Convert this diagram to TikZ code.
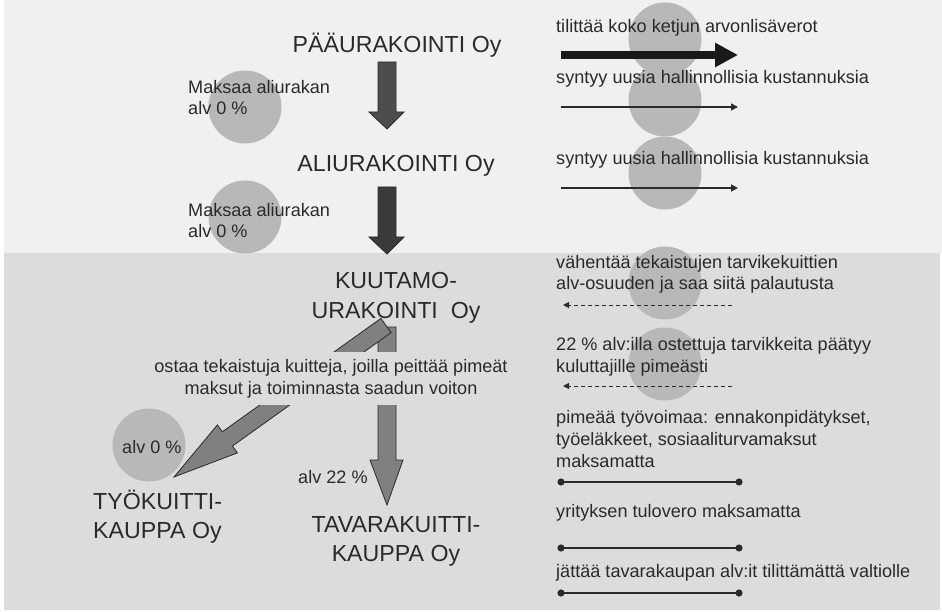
\documentclass[tikz,border=0pt]{standalone}
\usepackage{fontspec}
\setmainfont{Liberation Sans}
\usetikzlibrary{arrows.meta}
\definecolor{topbg}{HTML}{F0F0F0}
\definecolor{botbg}{HTML}{DCDCDC}
\definecolor{discgray}{HTML}{B8B8B8}
\definecolor{ink}{HTML}{2A2A2A}
\definecolor{arrA}{HTML}{4D4D4D}
\definecolor{arrB}{HTML}{3B3B3B}
\definecolor{arrC}{HTML}{808080}
\begin{document}
\begin{tikzpicture}[x=1pt,y=-1pt,
  big/.style={font=\fontsize{23.2}{29}\selectfont, text=ink, inner sep=0pt},
  small/.style={font=\fontsize{18.1}{21.7}\selectfont, text=ink, inner sep=0pt},
  disc/.style={circle, fill=discgray, minimum size=73pt, inner sep=0pt},
  block/.style={fill=#1, draw=ink, line width=0.8pt, line join=miter},
  thickarrow/.style={line width=8pt, draw=black!90, -{Triangle[length=23pt,width=23pt]}},
  thinarrow/.style={line width=1.4pt, draw=ink, -{Triangle[length=7pt,width=7pt]}},
  dasharrow/.style={line width=1pt, draw=ink, dash pattern=on 4pt off 3pt, -{Triangle[length=6pt,width=6pt]}},
  dotline/.style={line width=2pt, draw=ink, {Circle[length=7pt]}-{Circle[length=7pt]}}
]
\useasboundingbox (0,0) rectangle (942,612);
% backgrounds
\fill[topbg] (4,0) rectangle (942,253);
\fill[botbg] (4,253) rectangle (940,610);

% discs
\node[disc] (d1) at (245,107) {};
\node[disc] (d2) at (245,217) {};
\node[disc] (d3) at (149,445) {};
\node[disc] (r1) at (665,39) {};
\node[disc] (r2) at (665,100) {};
\node[disc] (r3) at (665,173) {};
\node[disc] (r4) at (665,283) {};
\node[disc] (r5) at (665,364) {};

% main company labels (base anchor = baseline of last line)
\node[big, anchor=base] (paa) at (397,53) {PÄÄURAKOINTI Oy};
\node[big, anchor=base] (ali) at (396,172) {ALIURAKOINTI Oy};
\node[big, anchor=base, align=center] (kuu) at (396,318) {KUUTAMO-\\URAKOINTI\ \ Oy};
\node[big, anchor=base west, align=left] (tyo) at (93,538) {TYÖKUITTI-\\KAUPPA Oy};
\node[big, anchor=base, align=center] (tav) at (396,561) {TAVARAKUITTI-\\KAUPPA Oy};

% side labels
\node[small, anchor=base west, align=left] (m1) at (188,115) {Maksaa aliurakan\\alv 0 \%};
\node[small, anchor=base west, align=left] (m2) at (188,238) {Maksaa aliurakan\\alv 0 \%};
\node[small, anchor=base west] (a0) at (122,453) {alv 0 \%};
\node[small, anchor=base west] (a22) at (298,483) {alv 22 \%};

% block arrows (upper chain)
\path[block=arrA] (378,62) -- (396,62) -- (396,112) -- (404,112) -- (387,129)
  -- (369,112) -- (378,112) -- cycle;
\path[block=arrB] (378,187) -- (396,187) -- (396,237) -- (404,237) -- (387,254)
  -- (369,237) -- (378,237) -- cycle;

% block arrows (lower)
\path[block=arrC] (378,327) -- (396,327) -- (396,460) -- (403,460) -- (387,505)
  -- (370,460) -- (378,460) -- cycle;
\path[block=arrC] (380.9,318.4) -- (222.3,431.8) -- (217.4,424.9) -- (174,477)
  -- (237.4,452.9) -- (232.5,446.0) -- (391.1,332.6) -- cycle;

% label over lower arrows
\node[small, anchor=base, align=center, fill=botbg, inner xsep=4pt, inner ysep=7pt] (ost) at (331,394)
  {ostaa tekaistuja kuitteja, joilla peittää pimeät\\maksut ja toiminnasta saadun voiton};

% right column texts
\node[small, anchor=base west] (t1) at (556,33) {tilittää koko ketjun arvonlisäverot};
\node[small, anchor=base west] (t2) at (556,84) {syntyy uusia hallinnollisia kustannuksia};
\node[small, anchor=base west] (t3) at (556,165) {syntyy uusia hallinnollisia kustannuksia};
\node[small, anchor=base west, align=left] (t4) at (556,290) {vähentää tekaistujen tarvikekuittien\\alv-osuuden ja saa siitä palautusta};
\node[small, anchor=base west, align=left] (t5) at (556,372) {22 \% alv:illa ostettuja tarvikkeita päätyy\\kuluttajille pimeästi};
\node[small, anchor=base west, align=left] (t6) at (556,467) {pimeää työvoimaa: ennakonpidätykset,\\työeläkkeet, sosiaaliturvamaksut\\maksamatta};
\node[small, anchor=base west] (t7) at (556,517) {yrityksen tulovero maksamatta};
\node[small, anchor=base west] (t8) at (556,577) {jättää tavarakaupan alv:it tilittämättä valtiolle};

% right column connectors
\coordinate (c1s) at (561,55);  \coordinate (c1e) at (738,55);
\coordinate (c2s) at (561,107); \coordinate (c2e) at (738,107);
\coordinate (c3s) at (561,188); \coordinate (c3e) at (738,188);
\coordinate (c4s) at (732,305); \coordinate (c4e) at (563,305);
\coordinate (c5s) at (732,386); \coordinate (c5e) at (563,386);
\coordinate (c6s) at (557.5,482); \coordinate (c6e) at (742.5,482);
\coordinate (c7s) at (557.5,548); \coordinate (c7e) at (742.5,548);
\coordinate (c8s) at (557.5,593); \coordinate (c8e) at (742.5,593);
\draw[thickarrow] (c1s) -- (c1e);
\draw[thinarrow] (c2s) -- (c2e);
\draw[thinarrow] (c3s) -- (c3e);
\draw[dasharrow] (c4s) -- (c4e);
\draw[dasharrow] (c5s) -- (c5e);
\draw[dotline] (c6s) -- (c6e);
\draw[dotline] (c7s) -- (c7e);
\draw[dotline] (c8s) -- (c8e);
\end{tikzpicture}
\end{document}
